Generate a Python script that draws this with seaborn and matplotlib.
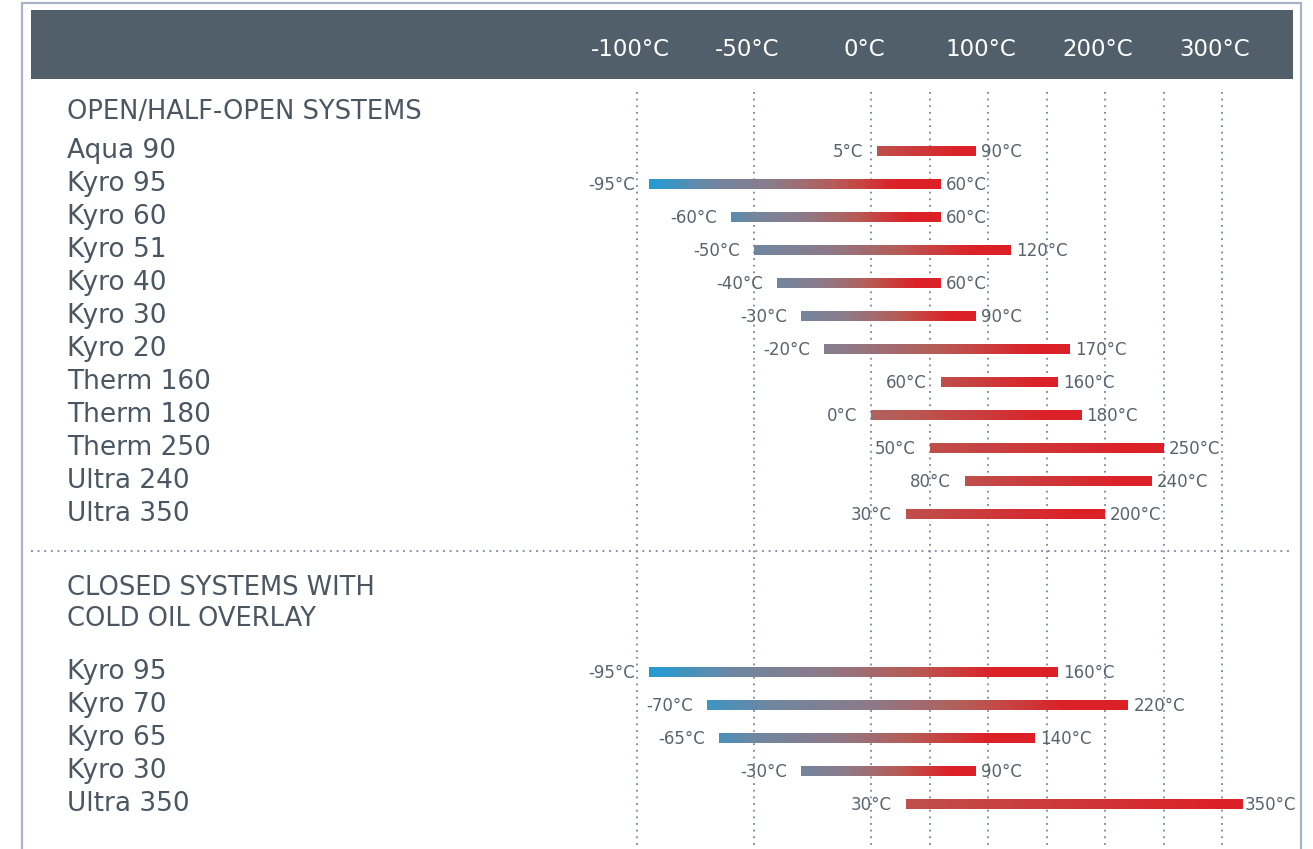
import numpy as np
import matplotlib
matplotlib.use("Agg")
import matplotlib.pyplot as plt
import seaborn as sns
from matplotlib.patches import Rectangle
from matplotlib.transforms import blended_transform_factory, offset_copy

# ---------------- data ----------------
open_products = ["Aqua 90", "Kyro 95", "Kyro 60", "Kyro 51", "Kyro 40", "Kyro 30",
                 "Kyro 20", "Therm 160", "Therm 180", "Therm 250", "Ultra 240", "Ultra 350"]
open_min = [5, -95, -60, -50, -40, -30, -20, 60, 0, 50, 80, 30]
open_max = [90, 60, 60, 120, 60, 90, 170, 160, 180, 250, 240, 200]

closed_products = ["Kyro 95", "Kyro 70", "Kyro 65", "Kyro 30", "Ultra 350"]
closed_min = [-95, -70, -65, -30, 30]
closed_max = [160, 220, 140, 90, 350]

tick_temps = [-100, -50, 0, 100, 200, 300]
grid_temps = [-100, -50, 0, 50, 100, 150, 200, 250, 300]
section_titles = ["OPEN/HALF-OPEN SYSTEMS", "CLOSED SYSTEMS WITH\nCOLD OIL OVERLAY"]

# ---------------- style ----------------
sns.set_theme(style="white")
plt.rcParams['font.family'] = ['DejaVu Sans']

HEAD_BG = "#505f6a"
TXT = "#4a5763"
VAL = "#58636d"
GRID = "#8790a8"
FRAME = "#a9b3c5"
cmap = sns.blend_palette(["#229cd6", "#6f86a0", "#8c7a89", "#b65c56", "#dc2027"], as_cmap=True)


def fwd(t):
    t = np.asarray(t, dtype=float)
    return np.where(t < 0, t / 50.0, t / 100.0)


def inv(u):
    u = np.asarray(u, dtype=float)
    return np.where(u < 0, u * 50.0, u * 100.0)


def start_frac(t0):
    return float(np.interp(t0, [-95, -70, -60, -50, -30, -20, 0, 5],
                           [0.0, 0.09, 0.17, 0.25, 0.28, 0.45, 0.70, 0.80]))


W, H = 1313, 849
fig = plt.figure(figsize=(W / 100, H / 100), dpi=100)
fig.patch.set_facecolor("white")


def fx(px):
    return px / W


def fy(py):
    return 1 - py / H


PX0 = 871.0   # pixel of 0 degC
STEP = 117.0  # pixels per scale unit
xl = (float(inv((31 - PX0) / STEP)), float(inv((1293 - PX0) / STEP)))

ax_head = fig.add_axes([fx(31), fy(79), fx(1293) - fx(31), fy(10) - fy(79)])
ax = fig.add_axes([fx(31), 0.0, fx(1293) - fx(31), fy(79)])
for a in (ax, ax_head):
    a.set_xscale('function', functions=(fwd, inv))
    a.set_xlim(*xl)
    for s in a.spines.values():
        s.set_visible(False)
    a.set_xticks([])
    a.set_yticks([])
    a.grid(False)

ax_head.set_facecolor(HEAD_BG)
ax_head.set_ylim(0, 1)
ax.set_facecolor("white")

ROW = 33.0
y_top = (79 - 151) / ROW
y_bot = (849 - 151) / ROW
ax.set_ylim(y_bot, y_top)

# header tick labels
htr = offset_copy(blended_transform_factory(ax_head.transData, ax_head.transAxes),
                  fig=fig, x=-7, y=0, units='dots')
for t in tick_temps:
    ax_head.text(t, 0.43, f"{t}°C", transform=htr, ha='center', va='center',
                 color='white', fontsize=16.5)

# vertical dotted grid lines
grid_start = (92 - 151) / ROW
for t in grid_temps:
    ax.plot([t, t], [grid_start, y_bot], color=GRID, lw=1.45,
            linestyle=(0, (0.9, 2.4)), zorder=1)

# section separator
sep_y = (551 - 151) / ROW
ax.plot([xl[0], xl[1]], [sep_y, sep_y], color=GRID, lw=1.45,
        linestyle=(0, (0.9, 2.4)), zorder=1)

y_open = np.arange(len(open_products), dtype=float)
y_closed = (672 - 151) / ROW + np.arange(len(closed_products), dtype=float)

lab_tr = blended_transform_factory(ax.transAxes, ax.transData)
LX = (67 - 31) / (1293 - 31)

ax.text(LX, (112 - 151) / ROW, section_titles[0], transform=lab_tr, ha='left',
        va='center', fontsize=18.5, color=TXT)
ax.text(LX, ((587 + 620) / 2 - 151) / ROW, section_titles[1], transform=lab_tr,
        ha='left', va='center', fontsize=18.5, color=TXT, linespacing=1.28)

renderer = fig.canvas.get_renderer()
end_labels = []


def draw_bar(y, t0, t1):
    n = 220
    u = np.linspace(float(fwd(t0)), float(fwd(t1)), n + 1)
    edges = inv(u)
    f = (np.arange(n) + 0.5) / n
    s0 = start_frac(t0)
    cols = cmap(np.clip(s0 + (1 - s0) * f / 0.85, 0, 1))
    ax.barh(np.full(n, y), edges[1:] - edges[:-1], left=edges[:-1], height=0.31,
            color=cols, linewidth=0, antialiased=False, zorder=3)
    ax.annotate(f"{t0}°C", xy=(t0, y), xytext=(-14, -1), textcoords='offset pixels',
                ha='right', va='center', fontsize=12, color=VAL, zorder=4)
    ann = ax.annotate(f"{t1}°C", xy=(t1, y), xytext=(5, -1), textcoords='offset pixels',
                      ha='left', va='center', fontsize=12, color=VAL, zorder=4)
    end_labels.append(ann)


for name, y, t0, t1 in zip(open_products, y_open, open_min, open_max):
    ax.text(LX, y, name, transform=lab_tr, ha='left', va='center', fontsize=19, color=TXT)
    draw_bar(y, t0, t1)

for name, y, t0, t1 in zip(closed_products, y_closed, closed_min, closed_max):
    ax.text(LX, y, name, transform=lab_tr, ha='left', va='center', fontsize=19, color=TXT)
    draw_bar(y, t0, t1)

# keep end labels inside the frame
limit = 1296
for ann in end_labels:
    bb = ann.get_window_extent(renderer)
    if bb.x1 > limit:
        shift = bb.x1 - limit
        ann.xyann = (5 - shift, -1)
        ann.set_bbox(dict(facecolor='white', edgecolor='none', pad=1.0))

# outer frame
fig.add_artist(Rectangle((fx(22), -0.05), fx(1301) - fx(22), fy(3) + 0.05,
                         transform=fig.transFigure, fill=False, edgecolor=FRAME,
                         linewidth=1.6, zorder=10))

fig.savefig("out.png", dpi=100, facecolor="white")
